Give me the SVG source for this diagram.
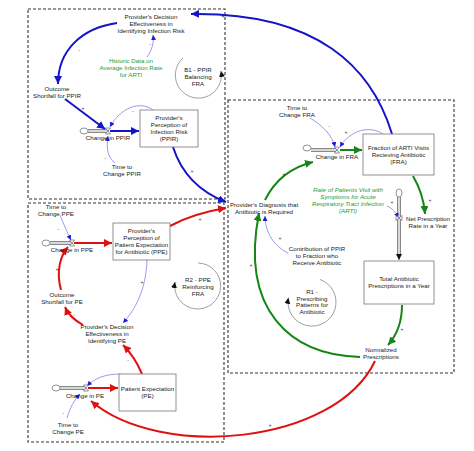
<svg xmlns="http://www.w3.org/2000/svg" width="474" height="451" viewBox="0 0 474 451">
<defs>
<style>
text{font-family:"Liberation Sans",Arial,sans-serif;font-size:6.2px;fill:#222;text-anchor:middle}
.g{fill:#2a9a2a}
.it{font-style:italic}
.sg{font-size:5px;fill:#333}
.box{fill:#fff;stroke:#777;stroke-width:0.8}
.dash{fill:none;stroke:#333;stroke-width:1.1;stroke-dasharray:3,2}
.loop{fill:none;stroke:#888;stroke-width:0.8}
.bl{fill:none;stroke:#1414c8;stroke-width:2}
.rd{fill:none;stroke:#e01010;stroke-width:2}
.gr{fill:none;stroke:#158515;stroke-width:2}
.tn{fill:none;stroke:#8080ee;stroke-width:0.8}
.po{fill:none;stroke:#888;stroke-width:4}
.pi{fill:none;stroke:#d8d8d8;stroke-width:2}
.cl{fill:#fff;stroke:#777;stroke-width:0.8}
.vl{fill:#fff;stroke:#666;stroke-width:0.7}
</style>
<marker id="ab" markerUnits="userSpaceOnUse" markerWidth="9" markerHeight="8" refX="8" refY="4" orient="auto"><path d="M0,0 L8,4 L0,8 Z" fill="#1414c8"/></marker>
<marker id="ar" markerUnits="userSpaceOnUse" markerWidth="9" markerHeight="8" refX="8" refY="4" orient="auto"><path d="M0,0 L8,4 L0,8 Z" fill="#e01010"/></marker>
<marker id="ag" markerUnits="userSpaceOnUse" markerWidth="9" markerHeight="8" refX="8" refY="4" orient="auto"><path d="M0,0 L8,4 L0,8 Z" fill="#158515"/></marker>
<marker id="at" markerUnits="userSpaceOnUse" markerWidth="6" markerHeight="5" refX="5" refY="2.5" orient="auto"><path d="M0,0 L5,2.5 L0,5 Z" fill="#1a1ae0"/></marker>
<marker id="ak" markerUnits="userSpaceOnUse" markerWidth="7" markerHeight="6" refX="6" refY="3" orient="auto"><path d="M0,0 L6,3 L0,6 Z" fill="#111"/></marker>
</defs>
<rect width="474" height="451" fill="#fff"/>

<g id="boundaries">
<rect class="dash" x="28" y="9" width="197" height="190"/>
<rect class="dash" x="28" y="203" width="196" height="239"/>
<rect class="dash" x="228" y="100" width="226" height="273"/>
</g>

<g id="loops">
<path class="loop" d="M183,58 A23,23 0 1 0 221,71" marker-end="url(#ak)"/>
<path class="loop" d="M198,263 A23,23 0 1 1 175,282" marker-end="url(#ak)"/>
<path class="loop" d="M320,279.5 A24,24 0 1 1 288.4,297.8" marker-end="url(#ak)"/>
</g>

<g id="pipes">
<path class="po" d="M88,131 H108"/><path class="pi" d="M88,131 H108"/>
<path class="po" d="M50,243 H72"/><path class="pi" d="M50,243 H72"/>
<path class="po" d="M60,388 H86"/><path class="pi" d="M60,388 H86"/>
<path class="po" d="M311,150 H337"/><path class="pi" d="M311,150 H337"/>
<path class="po" d="M399,197 V254"/><path class="pi" d="M399,197 V254"/>
<path d="M399,254 V260" stroke="#888" stroke-width="1" marker-end="url(#ak)"/>
<ellipse class="cl" cx="84" cy="131" rx="4" ry="3"/>
<ellipse class="cl" cx="46" cy="243" rx="4" ry="3"/>
<ellipse class="cl" cx="56" cy="388" rx="4" ry="3"/>
<ellipse class="cl" cx="307" cy="148" rx="4" ry="3"/>
<ellipse class="cl" cx="399" cy="193" rx="3" ry="4"/>
</g>

<g id="connectors">
<path class="bl" d="M392,134 C372,68 318,12 191,14" marker-end="url(#ab)"/>
<path class="bl" d="M117,23 C82,28 58,50 58,84" marker-end="url(#ab)"/>
<path class="bl" d="M65,99 L105,129" marker-end="url(#ab)"/>
<path class="bl" d="M110,131 L139,131" marker-end="url(#ab)"/>
<path class="bl" d="M173,147 C182,175 200,192 226,202" marker-end="url(#ab)"/>
<path class="rd" d="M74,243 L112,243" marker-end="url(#ar)"/>
<path class="rd" d="M170,226 C190,215 208,211 226,208" marker-end="url(#ar)"/>
<path class="rd" d="M83,325 C74,320 68,314 65,307" marker-end="url(#ar)"/>
<path class="rd" d="M61,290 C56,272 60,256 68,247" marker-end="url(#ar)"/>
<path class="rd" d="M142,374 C137,362 130,352 123,345" marker-end="url(#ar)"/>
<path class="rd" d="M88,388 L118,388" marker-end="url(#ar)"/>
<path class="rd" d="M375,361 C335,445 160,460 91,401" marker-end="url(#ar)"/>
<path class="gr" d="M265,200 C275,180 292,167 313,162" marker-end="url(#ag)"/>
<path class="gr" d="M340,150 L362,150" marker-end="url(#ag)"/>
<path class="gr" d="M413,176 C420,188 424,200 425,214" marker-end="url(#ag)"/>
<path class="gr" d="M402,305 C402,322 396,336 388,345" marker-end="url(#ag)"/>
<path class="gr" d="M360,357 C290,355 240,310 259,213" marker-end="url(#ag)"/>
<path class="tn" d="M147,57 C152,50 154,43 153,35" marker-end="url(#at)"/>
<path class="tn" d="M153,110 C140,100 120,108 110,127" marker-end="url(#at)"/>
<path class="tn" d="M115,163 C108,157 106,150 108,136" marker-end="url(#at)"/>
<path class="tn" d="M60,215 C64,225 67,232 71,240" marker-end="url(#at)"/>
<path class="tn" d="M147,260 C146,290 135,310 123,323" marker-end="url(#at)"/>
<path class="tn" d="M121,374 C105,374 95,378 87,386" marker-end="url(#at)"/>
<path class="tn" d="M67,418 C70,408 74,400 80,394" marker-end="url(#at)"/>
<path class="tn" d="M310,118 C322,125 332,135 335,147" marker-end="url(#at)"/>
<path class="tn" d="M383,134 C370,125 350,130 340,147" marker-end="url(#at)"/>
<path class="tn" d="M387,206 C392,208 396,212 398,218" marker-end="url(#at)"/>
<path class="tn" d="M288,253 C272,245 265,230 265,216" marker-end="url(#at)"/>
</g>

<g id="valves">
<path class="vl" d="M105.5,128 H110.5 L105.5,134 H110.5 Z"/>
<path class="vl" d="M69.5,240 H74.5 L69.5,246 H74.5 Z"/>
<path class="vl" d="M83.5,385 H88.5 L83.5,391 H88.5 Z"/>
<path class="vl" d="M334.5,147 H339.5 L334.5,153 H339.5 Z"/>
<path class="vl" d="M396,215.5 V220.5 L402,215.5 V220.5 Z"/>
</g>

<g id="signs">
<text class="sg" x="223" y="18">+</text>
<text class="sg" x="79" y="52">-</text>
<text class="sg" x="150" y="46">-</text>
<text class="sg" x="83" y="110">+</text>
<text class="sg" x="133" y="113">-</text>
<text class="sg" x="105" y="160">-</text>
<text class="sg" x="192" y="173">+</text>
<text class="sg" x="58" y="231">-</text>
<text class="sg" x="200" y="221">+</text>
<text class="sg" x="142" y="284">+</text>
<text class="sg" x="57" y="271">+</text>
<text class="sg" x="74" y="317">-</text>
<text class="sg" x="128" y="362">-</text>
<text class="sg" x="63" y="415">-</text>
<text class="sg" x="270" y="427">+</text>
<text class="sg" x="284" y="176">+</text>
<text class="sg" x="329" y="128">-</text>
<text class="sg" x="346" y="134">+</text>
<text class="sg" x="430" y="202">+</text>
<text class="sg" x="392" y="204">+</text>
<text class="sg" x="402" y="331">+</text>
<text class="sg" x="251" y="267">+</text>
<text class="sg" x="280" y="240">+</text>
</g>

<g id="pde-ir"><text x="151" y="19">Provider's Decision</text><text x="151" y="26">Effectiveness in</text><text x="151" y="33">Identifying Infection Risk</text></g>
<g id="historic"><text class="g" x="131" y="63">Historic Data on</text><text class="g" x="131" y="70">Average Infection Rate</text><text class="g" x="131" y="77">for ARTI</text></g>
<g id="b1"><text x="198" y="72">B1 - PPIR</text><text x="198" y="79">Balancing</text><text x="198" y="86">FRA</text></g>
<g id="os-ppir"><text x="57" y="91">Outcome</text><text x="57" y="98">Shortfall for PPIR</text></g>
<g id="ppir"><rect class="box" x="140" y="110" width="58" height="37"/><text x="169" y="120">Provider's</text><text x="169" y="127">Perception of</text><text x="169" y="134">Infection Risk</text><text x="169" y="141">(PPIR)</text></g>
<g id="change-ppir"><text x="108" y="140">Change in PPIR</text></g>
<g id="time-ppir"><text x="122" y="169">Time to</text><text x="122" y="176">Change PPIR</text></g>
<g id="time-ppe"><text x="56" y="209">Time to</text><text x="56" y="216">Change PPE</text></g>
<g id="change-ppe"><text x="72" y="252">Change in PPE</text></g>
<g id="ppe"><rect class="box" x="113" y="223" width="57" height="37"/><text x="141.5" y="233">Provider's</text><text x="141.5" y="240">Perception of</text><text x="141.5" y="247">Patient Expectation</text><text x="141.5" y="254">for Antibiotic (PPE)</text></g>
<g id="r2"><text x="198" y="282">R2 - PPE</text><text x="198" y="289">Reinforcing</text><text x="198" y="296">FRA</text></g>
<g id="os-pe"><text x="62" y="297">Outcome</text><text x="62" y="304">Shortfall for PE</text></g>
<g id="pde-pe"><text x="107" y="329">Provider's Decision</text><text x="107" y="336">Effectiveness in</text><text x="107" y="343">Identifying PE</text></g>
<g id="change-pe"><text x="85" y="398">Change in PE</text></g>
<g id="pe"><rect class="box" x="119" y="374" width="57" height="37"/><text x="147.5" y="391">Patient Expectation</text><text x="147.5" y="398">(PE)</text></g>
<g id="time-pe"><text x="68" y="427">Time to</text><text x="68" y="434">Change PE</text></g>
<g id="time-fra"><text x="297" y="110">Time to</text><text x="297" y="117">Change FRA</text></g>
<g id="change-fra"><text x="337" y="159">Change in FRA</text></g>
<g id="fra"><rect class="box" x="363" y="134" width="71" height="41"/><text x="398.5" y="150">Fraction of ARTI Visits</text><text x="398.5" y="157">Recieving Antibiotic</text><text x="398.5" y="164">(FRA)</text></g>
<g id="rate-arti"><text class="g it" x="348" y="192">Rate of Patients Visit with</text><text class="g it" x="348" y="199">Symptoms for Acute</text><text class="g it" x="348" y="206">Respiratory Tract Infection</text><text class="g it" x="348" y="213">(ARTI)</text></g>
<g id="net-rate"><text x="428" y="221">Net Prescription</text><text x="428" y="228">Rate in a Year</text></g>
<g id="total"><rect class="box" x="364" y="261" width="70" height="43"/><text x="399" y="281">Total Antibiotic</text><text x="399" y="288">Prescriptions in a Year</text></g>
<g id="normalized"><text x="381" y="352">Normalized</text><text x="381" y="359">Prescriptions</text></g>
<g id="r1"><text x="312" y="294">R1 -</text><text x="312" y="301">Prescribing</text><text x="312" y="307">Patterns for</text><text x="312" y="314">Antibiotic</text></g>
<g id="contribution"><text x="317" y="251">Contribution of PPIR</text><text x="317" y="258">to Fraction who</text><text x="317" y="265">Receive Antibiotic</text></g>
<g id="diagnosis"><text x="264" y="207">Provider's Diagnosis that</text><text x="264" y="214">Antibiotic is Required</text></g>
</svg>
